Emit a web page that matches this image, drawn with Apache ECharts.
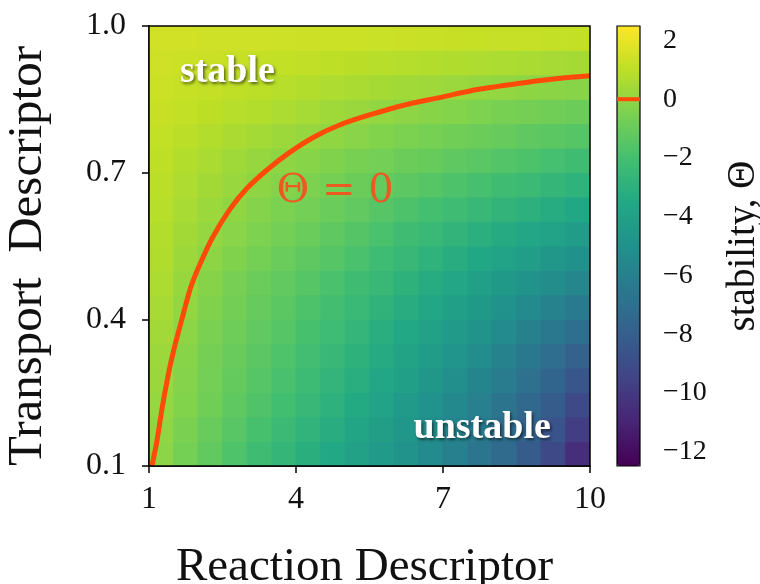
<!DOCTYPE html>
<html><head><meta charset="utf-8">
<script src="https://cdn.jsdelivr.net/npm/echarts@6/dist/echarts.min.js"></script>
<style>html,body{margin:0;padding:0;background:#fff}#c{width:760px;height:584px}</style>
</head><body><div id="c"></div>
<script>
// cell centres of the stability field
const xCenters = [1.25,1.75,2.25,2.75,3.25,3.75,4.25,4.75,5.25,5.75,6.25,6.75,7.25,7.75,8.25,8.75,9.25,9.75];
const yCenters = [0.125,0.175,0.225,0.275,0.325,0.375,0.425,0.475,0.525,0.575,0.625,0.675,0.725,0.775,0.825,0.875,0.925,0.975];
// stability Θ, one row per yCenters entry (bottom to top)
const theta = [
  [-0.11,-0.68,-1.20,-1.69,-2.17,-2.62,-3.08,-3.48,-3.94,-4.40,-4.85,-5.39,-5.99,-6.62,-7.33,-8.13,-9.14,-10.50],
  [-0.01,-0.51,-0.99,-1.46,-1.91,-2.35,-2.79,-3.21,-3.67,-4.13,-4.61,-5.15,-5.74,-6.36,-7.02,-7.75,-8.65,-9.82],
  [0.10,-0.33,-0.79,-1.23,-1.66,-2.08,-2.51,-2.94,-3.39,-3.86,-4.38,-4.92,-5.49,-6.09,-6.72,-7.37,-8.15,-9.13],
  [0.18,-0.27,-0.71,-1.11,-1.50,-1.89,-2.31,-2.72,-3.15,-3.62,-4.10,-4.60,-5.12,-5.70,-6.30,-6.94,-7.63,-8.47],
  [0.25,-0.21,-0.63,-0.98,-1.34,-1.70,-2.10,-2.49,-2.92,-3.37,-3.83,-4.27,-4.76,-5.32,-5.88,-6.50,-7.12,-7.80],
  [0.38,-0.09,-0.50,-0.85,-1.20,-1.53,-1.91,-2.27,-2.67,-3.09,-3.52,-3.94,-4.39,-4.89,-5.40,-5.95,-6.50,-7.09],
  [0.50,0.03,-0.37,-0.72,-1.05,-1.37,-1.71,-2.05,-2.43,-2.82,-3.22,-3.61,-4.02,-4.47,-4.93,-5.40,-5.88,-6.39],
  [0.62,0.15,-0.24,-0.59,-0.91,-1.20,-1.52,-1.83,-2.18,-2.54,-2.91,-3.28,-3.65,-4.04,-4.45,-4.85,-5.25,-5.68],
  [0.70,0.28,-0.08,-0.38,-0.68,-0.95,-1.23,-1.53,-1.87,-2.20,-2.54,-2.87,-3.20,-3.55,-3.89,-4.23,-4.58,-4.97],
  [0.78,0.40,0.09,-0.18,-0.44,-0.69,-0.95,-1.24,-1.55,-1.87,-2.17,-2.46,-2.75,-3.05,-3.34,-3.61,-3.91,-4.26],
  [0.86,0.53,0.24,-0.01,-0.25,-0.48,-0.71,-0.95,-1.21,-1.48,-1.74,-1.99,-2.24,-2.50,-2.75,-3.00,-3.26,-3.56],
  [0.94,0.65,0.40,0.16,-0.06,-0.26,-0.47,-0.67,-0.88,-1.10,-1.31,-1.52,-1.73,-1.95,-2.17,-2.39,-2.62,-2.87],
  [1.01,0.78,0.55,0.33,0.13,-0.05,-0.22,-0.38,-0.55,-0.71,-0.88,-1.04,-1.22,-1.40,-1.58,-1.78,-1.98,-2.18],
  [1.12,0.94,0.77,0.59,0.43,0.28,0.13,-0.02,-0.18,-0.34,-0.48,-0.62,-0.77,-0.92,-1.06,-1.22,-1.37,-1.54],
  [1.22,1.10,0.98,0.86,0.74,0.62,0.48,0.33,0.18,0.04,-0.08,-0.19,-0.31,-0.43,-0.55,-0.66,-0.77,-0.89],
  [1.30,1.21,1.13,1.04,0.95,0.86,0.77,0.66,0.56,0.46,0.37,0.29,0.20,0.11,0.03,-0.05,-0.13,-0.22],
  [1.38,1.32,1.27,1.22,1.16,1.11,1.06,0.99,0.93,0.87,0.82,0.77,0.71,0.66,0.61,0.56,0.51,0.46],
  [1.45,1.43,1.42,1.40,1.38,1.36,1.34,1.32,1.30,1.28,1.27,1.25,1.23,1.21,1.19,1.17,1.15,1.13]
];
// Θ = 0 contour
const contourX = [1.06,1.16,1.27,1.40,1.50,1.67,1.85,2.05,2.30,2.65,3.00,3.40,3.85,4.35,4.90,5.50,6.20,6.90,7.70,8.50,9.30,10.0];
const contourY = [0.10,0.15,0.22,0.29,0.335,0.40,0.465,0.515,0.568,0.625,0.668,0.705,0.740,0.772,0.798,0.818,0.838,0.853,0.870,0.882,0.892,0.898];
const contourLevel = 0;
const thetaMin = -12.48, thetaMax = 2.49;
const xTicks = [1,4,7,10];
const yTicks = [0.1,0.4,0.7,1.0];
const cbTicks = [-12,-10,-8,-6,-4,-2,0,2];
const noteText = ['stable','unstable','Θ = 0'];
const noteX = [2.6,7.8,4.8];
const noteY = [0.905,0.177,0.662];

const viridis = ['#440154','#482475','#414487','#355f8d','#2a788e','#21918c','#22a884','#44bf70','#7ad151','#bddf26','#fde725'];
const serif = 'Liberation Serif';
const dx = xCenters[1]-xCenters[0], dy = yCenters[1]-yCenters[0];
const cells = [];
theta.forEach((row,i)=>row.forEach((v,j)=>cells.push([xCenters[j], yCenters[i], v])));
const notes = noteText.map((t,i)=>[noteX[i], noteY[i], i]);
const noteStyle = [
  {fill:'#ffffff', font:'bold 38px "Liberation Serif"', shadow:true},
  {fill:'#ffffff', font:'bold 38px "Liberation Serif"', shadow:true},
  {fill:'#ec5a22', font:'40px "DejaVu Serif"', shadow:false}
];
const minus = v => v < 0 ? '\u2212' + (-v) : String(v);
const red = '#ff4a0a';

const chart = echarts.init(document.getElementById('c'), null, {renderer:'canvas'});
chart.setOption({
  animation:false,
  backgroundColor:'#fff',
  grid:[
    {left:149, top:26, width:441, height:440, outerBoundsMode:'none', containLabel:false, show:true, borderColor:'#000', borderWidth:1.5, backgroundColor:'transparent', z:10},
    {left:617, top:26, width:23, height:440, outerBoundsMode:'none', containLabel:false, show:true, borderColor:'#000', borderWidth:1.2, backgroundColor:'transparent', z:5}
  ],
  xAxis:[
    {gridIndex:0, type:'value', min:1, max:10, position:'bottom',
     axisLine:{show:true, lineStyle:{color:'#000', width:1.5}},
     axisTick:{show:true, customValues:xTicks, length:7, lineStyle:{color:'#000', width:1.5}},
     axisLabel:{customValues:xTicks, showMinLabel:true, showMaxLabel:true, fontFamily:serif, fontSize:32, color:'#111', margin:18},
     splitLine:{show:false},
     name:'Reaction Descriptor', nameLocation:'middle', nameGap:78,
     nameTextStyle:{fontFamily:serif, fontSize:47, color:'#111', padding:[0,10,0,0]}},
    {gridIndex:1, type:'value', min:0, max:1, show:false}
  ],
  yAxis:[
    {gridIndex:0, type:'value', min:0.1, max:1.0, position:'left',
     axisLine:{show:true, lineStyle:{color:'#000', width:1.5}},
     axisTick:{show:true, customValues:yTicks, length:7, lineStyle:{color:'#000', width:1.5}},
     axisLabel:{customValues:yTicks, showMinLabel:true, showMaxLabel:true, formatter:v=>v.toFixed(1), fontFamily:serif, fontSize:32, color:'#111', margin:23},
     splitLine:{show:false},
     name:'Transport  Descriptor', nameLocation:'middle', nameGap:96, nameRotate:90,
     nameTextStyle:{fontFamily:serif, fontSize:49, color:'#111', padding:[0,20,0,0]}},
    {gridIndex:1, type:'value', min:thetaMin, max:thetaMax, position:'right',
     axisLine:{show:false},
     axisTick:{show:true, customValues:cbTicks, length:9, lineStyle:{color:'#000', width:1.3}},
     axisLabel:{customValues:cbTicks, showMinLabel:true, showMaxLabel:true, formatter:minus, fontFamily:serif, fontSize:28, color:'#111', margin:23},
     splitLine:{show:false},
     name:'stability, Θ', nameLocation:'middle', nameGap:84, nameRotate:90,
     nameTextStyle:{fontFamily:serif, fontSize:39, color:'#111'}}
  ],
  visualMap:{type:'continuous', seriesIndex:0, dimension:2, min:thetaMin, max:thetaMax,
    inRange:{color:viridis}, left:617, top:26, itemWidth:23, itemHeight:440, padding:0,
    calculable:false, text:null, hoverLink:false, orient:'vertical', z:3},
  series:[
    {type:'custom', xAxisIndex:0, yAxisIndex:0, data:cells, clip:true, encode:{x:0, y:1},
     renderItem:function(params, api){
       const x = api.value(0), y = api.value(1);
       const a = api.coord([x-dx/2, y+dy/2]);
       const b = api.coord([x+dx/2, y-dy/2]);
       return {type:'rect', shape:{x:a[0]-0.4, y:a[1]-0.4, width:b[0]-a[0]+0.8, height:b[1]-a[1]+0.8},
               style:{fill:api.visual('color')}};
     }},
    {type:'line', xAxisIndex:0, yAxisIndex:0, data:contourX.map((x,i)=>[x, contourY[i]]),
     smooth:0.25, symbol:'none', clip:true, z:5, lineStyle:{color:red, width:5}},
    {type:'custom', xAxisIndex:0, yAxisIndex:0, data:notes, z:6, clip:false,
     renderItem:function(params, api){
       const p = api.coord([api.value(0), api.value(1)]);
       const k = api.value(2);
       const s = noteStyle[k];
       const st = {text:noteText[k], fill:s.fill, font:s.font, align:'center', verticalAlign:'middle'};
       if (s.shadow){ st.textShadowColor='rgba(0,0,0,0.55)'; st.textShadowBlur=3; st.textShadowOffsetX=1.5; st.textShadowOffsetY=1.5; }
       return {type:'text', x:p[0], y:p[1], style:st};
     }},
    {type:'line', xAxisIndex:1, yAxisIndex:1, data:[[0,contourLevel],[1,contourLevel]],
     symbol:'none', z:10, lineStyle:{color:red, width:4}}
  ]
});
</script></body></html>
